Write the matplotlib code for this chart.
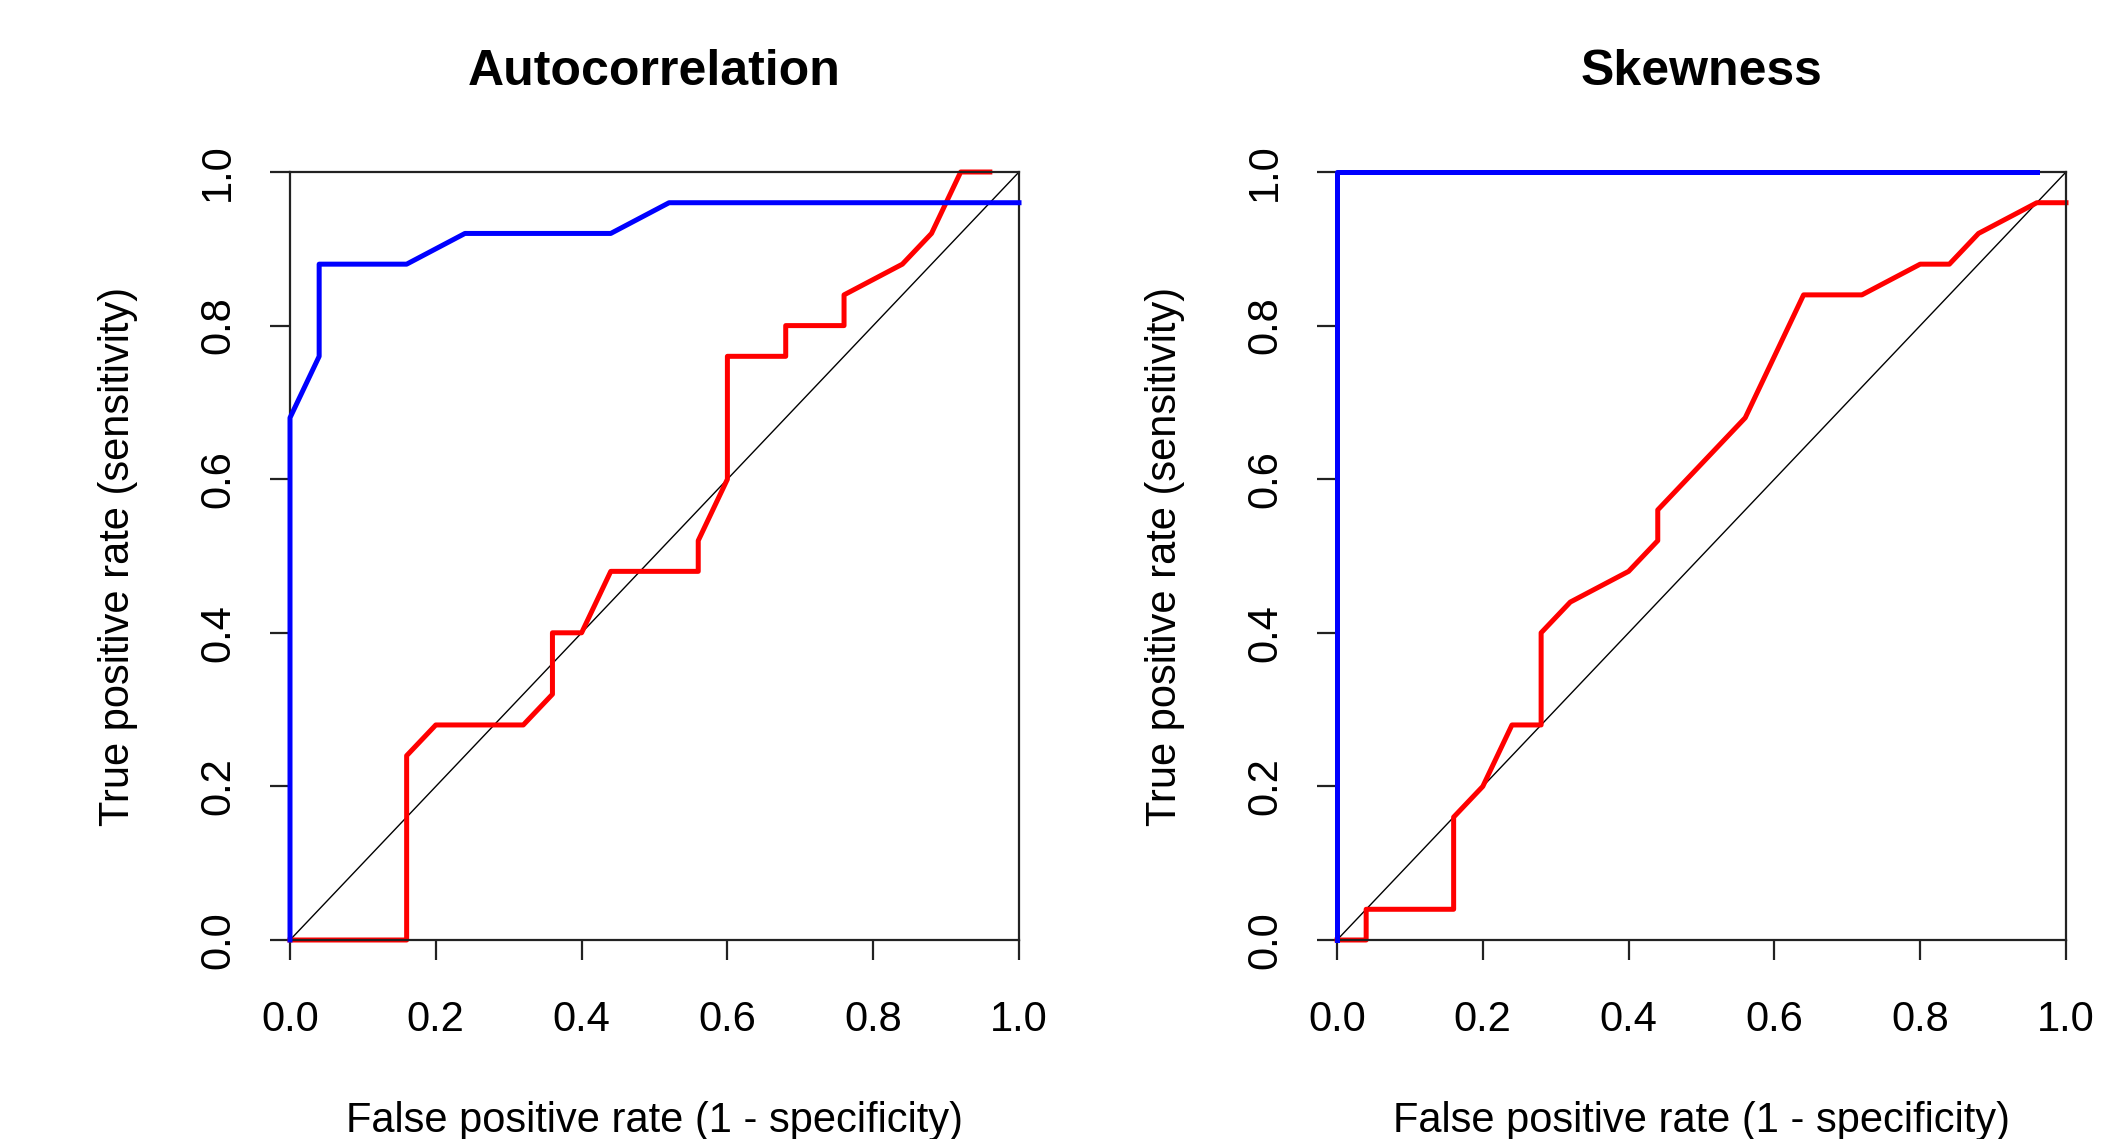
import numpy as np
import matplotlib.pyplot as plt

plt.rcParams['font.family'] = ['Liberation Sans', 'DejaVu Sans']

# ROC curves
ac_blue_fpr = [0.0, 0.0, 0.04, 0.04, 0.16, 0.24, 0.44, 0.52, 1.0]
ac_blue_tpr = [0.0, 0.68, 0.76, 0.88, 0.88, 0.92, 0.92, 0.96, 0.96]
ac_red_fpr = [0.0, 0.16, 0.16, 0.20, 0.32, 0.36, 0.36, 0.40, 0.44, 0.56, 0.56,
              0.60, 0.60, 0.68, 0.68, 0.76, 0.76, 0.84, 0.88, 0.92, 0.96]
ac_red_tpr = [0.0, 0.0, 0.24, 0.28, 0.28, 0.32, 0.40, 0.40, 0.48, 0.48, 0.52,
              0.60, 0.76, 0.76, 0.80, 0.80, 0.84, 0.88, 0.92, 1.0, 1.0]

sk_blue_fpr = [0.0, 0.0, 0.96]
sk_blue_tpr = [0.0, 1.0, 1.0]
sk_red_fpr = [0.0, 0.04, 0.04, 0.16, 0.16, 0.20, 0.24, 0.28, 0.28, 0.32, 0.40,
              0.44, 0.44, 0.56, 0.64, 0.72, 0.80, 0.84, 0.88, 0.96, 1.0]
sk_red_tpr = [0.0, 0.0, 0.04, 0.04, 0.16, 0.20, 0.28, 0.28, 0.40, 0.44, 0.48,
              0.52, 0.56, 0.68, 0.84, 0.84, 0.88, 0.88, 0.92, 0.96, 0.96]

titles = ["Autocorrelation", "Skewness"]
ticks = [0.0, 0.2, 0.4, 0.6, 0.8, 1.0]
tick_labels = ["0.0", "0.2", "0.4", "0.6", "0.8", "1.0"]

W, H = 2103, 1139
fig = plt.figure(figsize=(W / 100, H / 100), dpi=100)

ax_w, ax_h = 729, 768
lefts = [290, 1337]
bottom = H - 940

panels = [(ac_blue_fpr, ac_blue_tpr, ac_red_fpr, ac_red_tpr),
          (sk_blue_fpr, sk_blue_tpr, sk_red_fpr, sk_red_tpr)]

for i in range(2):
	ax = fig.add_axes([lefts[i] / W, bottom / H, ax_w / W, ax_h / H])
	bf, bt, rf, rt = panels[i]
	ax.plot([0, 1], [0, 1], color='black', lw=1.0, zorder=2)
	ax.plot(rf, rt, color='#ff0000', lw=3.6, zorder=3, clip_on=False)
	ax.plot(bf, bt, color='#0000ff', lw=3.6, zorder=4, clip_on=False)
	ax.set_xlim(0, 1)
	ax.set_ylim(0, 1)
	for s in ax.spines.values():
		s.set_linewidth(1.6)
		s.set_color('#222222')
		s.set_zorder(3.5)
	ax.tick_params(direction='out', length=14.4, width=1.6, color='#222222', labelsize=30)
	ax.tick_params(axis='x', pad=29)
	ax.tick_params(axis='y', pad=23)
	ax.set_xticks(ticks)
	ax.set_xticklabels(tick_labels)
	ax.set_yticks(ticks)
	ax.set_yticklabels(tick_labels, rotation=90, va='center')
	ax.text(0.5, 1 + 87 / ax_h, titles[i], transform=ax.transAxes,
	        ha='center', va='baseline', fontsize=36, fontweight='bold')
	ax.text(0.5, -192 / ax_h, "False positive rate (1 - specificity)",
	        transform=ax.transAxes, ha='center', va='baseline', fontsize=30)
	ax.text(-161 / ax_w, 0.5, "True positive rate (sensitivity)",
	        transform=ax.transAxes, ha='center', va='baseline', fontsize=30,
	        rotation=90, rotation_mode='anchor')

fig.savefig('out.png', dpi=100)
